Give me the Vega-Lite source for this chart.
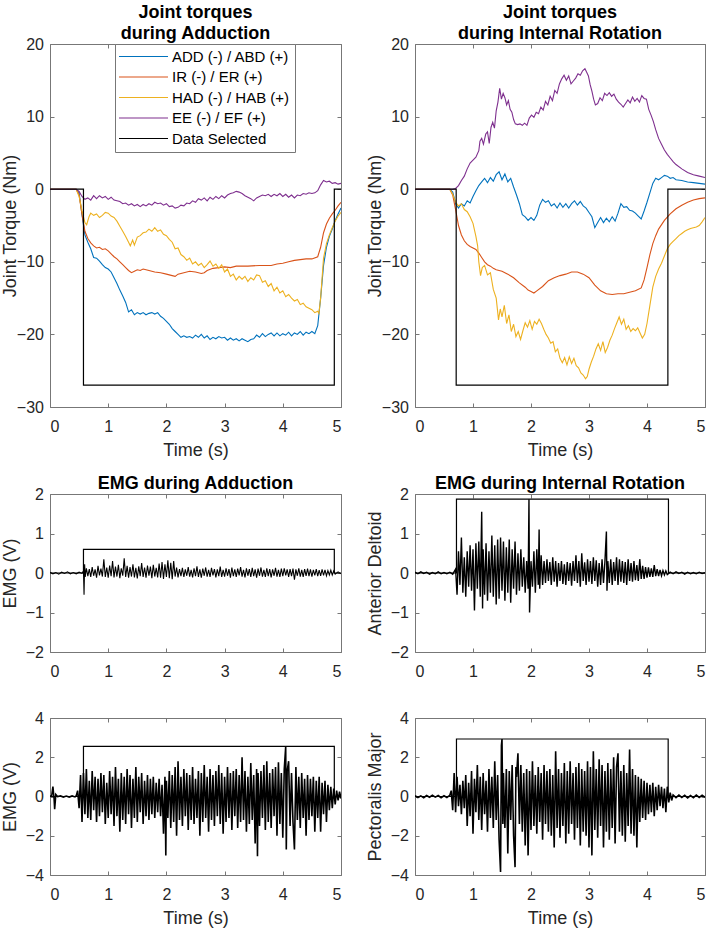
{
"$schema":"https://vega.github.io/schema/vega-lite/v6.json",
"padding":{"left":0,"top":3,"right":0,"bottom":0},
"config":{
 "font":"Liberation Sans",
 "view":{"stroke":"#777777","strokeWidth":1},
 "axis":{"domain":false,"grid":false,"tickSize":-4,"tickColor":"#777777","labelFont":"Liberation Sans","labelFontSize":16,"labelColor":"#262626","titleFont":"Liberation Sans","titleFontSize":18,"titleFontWeight":"normal","titleColor":"#262626"},
 "axisX":{"labelPadding":15,"titlePadding":7,"labelAngle":0},
 "axisY":{"labelPadding":10.5,"titlePadding":4},
 "title":{"font":"Liberation Sans","fontSize":18,"fontWeight":"bold","color":"#000000","offset":-7,"frame":"group","lineHeight":21}
},
"datasets":{
"tl":[
{"s":"ADD","t":0,"v":0},{"s":"ADD","t":0.45,"v":0},{"s":"ADD","t":0.5,"v":-0.5},{"s":"ADD","t":0.55,"v":-3.5},{"s":"ADD","t":0.6,"v":-6.3},{"s":"ADD","t":0.65,"v":-7.3},{"s":"ADD","t":0.7,"v":-8.2},{"s":"ADD","t":0.75,"v":-9.4},{"s":"ADD","t":0.8,"v":-9.5},{"s":"ADD","t":0.85,"v":-9.9},{"s":"ADD","t":0.9,"v":-10.4},{"s":"ADD","t":0.95,"v":-10.8},{"s":"ADD","t":1,"v":-11},{"s":"ADD","t":1.05,"v":-11.4},{"s":"ADD","t":1.1,"v":-12.2},{"s":"ADD","t":1.15,"v":-13},{"s":"ADD","t":1.2,"v":-13.9},{"s":"ADD","t":1.25,"v":-14.7},{"s":"ADD","t":1.3,"v":-15.6},{"s":"ADD","t":1.35,"v":-16.9},{"s":"ADD","t":1.4,"v":-16.6},{"s":"ADD","t":1.45,"v":-17.3},{"s":"ADD","t":1.5,"v":-17},{"s":"ADD","t":1.55,"v":-17.2},{"s":"ADD","t":1.6,"v":-17},{"s":"ADD","t":1.65,"v":-17.3},{"s":"ADD","t":1.7,"v":-17.1},{"s":"ADD","t":1.75,"v":-17},{"s":"ADD","t":1.8,"v":-17.2},{"s":"ADD","t":1.85,"v":-17},{"s":"ADD","t":1.9,"v":-17.5},{"s":"ADD","t":1.95,"v":-17.8},{"s":"ADD","t":2,"v":-18.2},{"s":"ADD","t":2.05,"v":-18.6},{"s":"ADD","t":2.1,"v":-19.2},{"s":"ADD","t":2.15,"v":-19.6},{"s":"ADD","t":2.2,"v":-20},{"s":"ADD","t":2.25,"v":-20.4},{"s":"ADD","t":2.3,"v":-20.2},{"s":"ADD","t":2.35,"v":-20.4},{"s":"ADD","t":2.4,"v":-20.3},{"s":"ADD","t":2.45,"v":-20.5},{"s":"ADD","t":2.5,"v":-20.1},{"s":"ADD","t":2.55,"v":-20.4},{"s":"ADD","t":2.6,"v":-20},{"s":"ADD","t":2.65,"v":-20.5},{"s":"ADD","t":2.7,"v":-20.2},{"s":"ADD","t":2.75,"v":-20.7},{"s":"ADD","t":2.8,"v":-20.4},{"s":"ADD","t":2.85,"v":-20.6},{"s":"ADD","t":2.9,"v":-20.3},{"s":"ADD","t":2.95,"v":-20.5},{"s":"ADD","t":3,"v":-20.4},{"s":"ADD","t":3.05,"v":-20.8},{"s":"ADD","t":3.1,"v":-20.5},{"s":"ADD","t":3.15,"v":-20.8},{"s":"ADD","t":3.2,"v":-20.6},{"s":"ADD","t":3.25,"v":-20.9},{"s":"ADD","t":3.3,"v":-20.6},{"s":"ADD","t":3.35,"v":-20.8},{"s":"ADD","t":3.4,"v":-21},{"s":"ADD","t":3.45,"v":-20.7},{"s":"ADD","t":3.5,"v":-20.6},{"s":"ADD","t":3.55,"v":-20.1},{"s":"ADD","t":3.6,"v":-20.4},{"s":"ADD","t":3.65,"v":-19.9},{"s":"ADD","t":3.7,"v":-20.3},{"s":"ADD","t":3.75,"v":-20},{"s":"ADD","t":3.8,"v":-19.8},{"s":"ADD","t":3.85,"v":-20.2},{"s":"ADD","t":3.9,"v":-19.8},{"s":"ADD","t":3.95,"v":-20.2},{"s":"ADD","t":4,"v":-19.9},{"s":"ADD","t":4.05,"v":-20.1},{"s":"ADD","t":4.1,"v":-19.7},{"s":"ADD","t":4.15,"v":-20.2},{"s":"ADD","t":4.2,"v":-19.8},{"s":"ADD","t":4.25,"v":-20},{"s":"ADD","t":4.3,"v":-19.6},{"s":"ADD","t":4.35,"v":-20.1},{"s":"ADD","t":4.4,"v":-19.7},{"s":"ADD","t":4.45,"v":-19.9},{"s":"ADD","t":4.5,"v":-19.6},{"s":"ADD","t":4.55,"v":-19.9},{"s":"ADD","t":4.6,"v":-18.8},{"s":"ADD","t":4.65,"v":-15},{"s":"ADD","t":4.7,"v":-10.5},{"s":"ADD","t":4.75,"v":-8},{"s":"ADD","t":4.8,"v":-6.5},{"s":"ADD","t":4.85,"v":-5.5},{"s":"ADD","t":4.9,"v":-4.3},{"s":"ADD","t":4.95,"v":-3.4},{"s":"ADD","t":5,"v":-2.6},
{"s":"IR","t":0,"v":0},{"s":"IR","t":0.45,"v":0},{"s":"IR","t":0.5,"v":-0.8},{"s":"IR","t":0.55,"v":-3.5},{"s":"IR","t":0.6,"v":-5.8},{"s":"IR","t":0.65,"v":-6.8},{"s":"IR","t":0.7,"v":-7.4},{"s":"IR","t":0.75,"v":-7.8},{"s":"IR","t":0.8,"v":-8.1},{"s":"IR","t":0.85,"v":-8},{"s":"IR","t":0.9,"v":-8.3},{"s":"IR","t":0.95,"v":-8.2},{"s":"IR","t":1,"v":-8.5},{"s":"IR","t":1.05,"v":-8.9},{"s":"IR","t":1.1,"v":-9.3},{"s":"IR","t":1.15,"v":-9.6},{"s":"IR","t":1.2,"v":-10},{"s":"IR","t":1.25,"v":-10.4},{"s":"IR","t":1.3,"v":-10.8},{"s":"IR","t":1.35,"v":-11.2},{"s":"IR","t":1.4,"v":-11.5},{"s":"IR","t":1.45,"v":-11.3},{"s":"IR","t":1.5,"v":-11.1},{"s":"IR","t":1.55,"v":-11.2},{"s":"IR","t":1.6,"v":-11},{"s":"IR","t":1.7,"v":-11.2},{"s":"IR","t":1.8,"v":-11.4},{"s":"IR","t":1.9,"v":-11.5},{"s":"IR","t":2,"v":-11.7},{"s":"IR","t":2.1,"v":-11.9},{"s":"IR","t":2.15,"v":-12},{"s":"IR","t":2.2,"v":-11.7},{"s":"IR","t":2.3,"v":-11.5},{"s":"IR","t":2.4,"v":-11.3},{"s":"IR","t":2.5,"v":-11.4},{"s":"IR","t":2.6,"v":-11.6},{"s":"IR","t":2.65,"v":-11.5},{"s":"IR","t":2.7,"v":-11.2},{"s":"IR","t":2.8,"v":-10.9},{"s":"IR","t":2.9,"v":-10.8},{"s":"IR","t":3,"v":-10.7},{"s":"IR","t":3.1,"v":-10.8},{"s":"IR","t":3.2,"v":-10.6},{"s":"IR","t":3.4,"v":-10.6},{"s":"IR","t":3.6,"v":-10.5},{"s":"IR","t":3.8,"v":-10.5},{"s":"IR","t":3.9,"v":-10.3},{"s":"IR","t":4,"v":-10.2},{"s":"IR","t":4.1,"v":-10},{"s":"IR","t":4.2,"v":-9.8},{"s":"IR","t":4.3,"v":-9.7},{"s":"IR","t":4.4,"v":-9.6},{"s":"IR","t":4.5,"v":-9.6},{"s":"IR","t":4.6,"v":-9.3},{"s":"IR","t":4.65,"v":-8},{"s":"IR","t":4.7,"v":-6},{"s":"IR","t":4.75,"v":-4.8},{"s":"IR","t":4.8,"v":-4},{"s":"IR","t":4.85,"v":-3.4},{"s":"IR","t":4.9,"v":-2.9},{"s":"IR","t":4.95,"v":-2.3},{"s":"IR","t":5,"v":-1.8},
{"s":"HAD","t":0,"v":0},{"s":"HAD","t":0.45,"v":0},{"s":"HAD","t":0.5,"v":-1},{"s":"HAD","t":0.55,"v":-3},{"s":"HAD","t":0.6,"v":-4.6},{"s":"HAD","t":0.63,"v":-4.9},{"s":"HAD","t":0.67,"v":-3.8},{"s":"HAD","t":0.7,"v":-3.3},{"s":"HAD","t":0.75,"v":-3.6},{"s":"HAD","t":0.8,"v":-3.4},{"s":"HAD","t":0.85,"v":-3.9},{"s":"HAD","t":0.9,"v":-3.6},{"s":"HAD","t":0.95,"v":-3.2},{"s":"HAD","t":1,"v":-3.3},{"s":"HAD","t":1.05,"v":-3.7},{"s":"HAD","t":1.1,"v":-3.9},{"s":"HAD","t":1.15,"v":-4.4},{"s":"HAD","t":1.2,"v":-5.1},{"s":"HAD","t":1.25,"v":-5.8},{"s":"HAD","t":1.3,"v":-6.5},{"s":"HAD","t":1.35,"v":-7.3},{"s":"HAD","t":1.38,"v":-7.8},{"s":"HAD","t":1.42,"v":-7},{"s":"HAD","t":1.45,"v":-7.7},{"s":"HAD","t":1.5,"v":-6.6},{"s":"HAD","t":1.55,"v":-6.4},{"s":"HAD","t":1.6,"v":-6},{"s":"HAD","t":1.65,"v":-5.9},{"s":"HAD","t":1.7,"v":-5.5},{"s":"HAD","t":1.75,"v":-5.8},{"s":"HAD","t":1.8,"v":-5.3},{"s":"HAD","t":1.85,"v":-5.8},{"s":"HAD","t":1.9,"v":-5.6},{"s":"HAD","t":1.95,"v":-6.2},{"s":"HAD","t":2,"v":-6.4},{"s":"HAD","t":2.05,"v":-6.9},{"s":"HAD","t":2.1,"v":-7.3},{"s":"HAD","t":2.15,"v":-8.2},{"s":"HAD","t":2.2,"v":-8.1},{"s":"HAD","t":2.25,"v":-9},{"s":"HAD","t":2.3,"v":-9.3},{"s":"HAD","t":2.35,"v":-9.8},{"s":"HAD","t":2.4,"v":-9.5},{"s":"HAD","t":2.45,"v":-10.3},{"s":"HAD","t":2.5,"v":-10},{"s":"HAD","t":2.55,"v":-10.5},{"s":"HAD","t":2.6,"v":-10.2},{"s":"HAD","t":2.65,"v":-10.8},{"s":"HAD","t":2.7,"v":-10.4},{"s":"HAD","t":2.75,"v":-9.9},{"s":"HAD","t":2.8,"v":-10.6},{"s":"HAD","t":2.85,"v":-10.3},{"s":"HAD","t":2.9,"v":-10.9},{"s":"HAD","t":2.95,"v":-10.4},{"s":"HAD","t":3,"v":-11.4},{"s":"HAD","t":3.05,"v":-11},{"s":"HAD","t":3.1,"v":-12},{"s":"HAD","t":3.15,"v":-11.7},{"s":"HAD","t":3.2,"v":-12.5},{"s":"HAD","t":3.25,"v":-12},{"s":"HAD","t":3.3,"v":-12.4},{"s":"HAD","t":3.35,"v":-12},{"s":"HAD","t":3.4,"v":-12.7},{"s":"HAD","t":3.45,"v":-12.2},{"s":"HAD","t":3.5,"v":-12.5},{"s":"HAD","t":3.55,"v":-11.8},{"s":"HAD","t":3.6,"v":-11.9},{"s":"HAD","t":3.65,"v":-12.8},{"s":"HAD","t":3.7,"v":-12.6},{"s":"HAD","t":3.75,"v":-13.4},{"s":"HAD","t":3.8,"v":-13},{"s":"HAD","t":3.85,"v":-14},{"s":"HAD","t":3.9,"v":-13.5},{"s":"HAD","t":3.95,"v":-14.3},{"s":"HAD","t":4,"v":-14},{"s":"HAD","t":4.05,"v":-14.8},{"s":"HAD","t":4.1,"v":-14.5},{"s":"HAD","t":4.15,"v":-15},{"s":"HAD","t":4.2,"v":-15.4},{"s":"HAD","t":4.25,"v":-15.2},{"s":"HAD","t":4.3,"v":-15.9},{"s":"HAD","t":4.35,"v":-15.7},{"s":"HAD","t":4.4,"v":-16.2},{"s":"HAD","t":4.45,"v":-16.4},{"s":"HAD","t":4.5,"v":-16.6},{"s":"HAD","t":4.55,"v":-17},{"s":"HAD","t":4.6,"v":-16.8},{"s":"HAD","t":4.62,"v":-17.1},{"s":"HAD","t":4.65,"v":-15},{"s":"HAD","t":4.7,"v":-9.5},{"s":"HAD","t":4.75,"v":-7.5},{"s":"HAD","t":4.8,"v":-6.3},{"s":"HAD","t":4.85,"v":-5.3},{"s":"HAD","t":4.9,"v":-4.4},{"s":"HAD","t":4.95,"v":-3.7},{"s":"HAD","t":5,"v":-3.2},
{"s":"EE","t":0,"v":0},{"s":"EE","t":0.45,"v":0},{"s":"EE","t":0.5,"v":-0.3},{"s":"EE","t":0.55,"v":-1},{"s":"EE","t":0.6,"v":-1.4},{"s":"EE","t":0.65,"v":-1.2},{"s":"EE","t":0.7,"v":-1.5},{"s":"EE","t":0.75,"v":-0.9},{"s":"EE","t":0.8,"v":-1.3},{"s":"EE","t":0.85,"v":-0.9},{"s":"EE","t":0.9,"v":-1.2},{"s":"EE","t":0.95,"v":-1},{"s":"EE","t":1,"v":-1.4},{"s":"EE","t":1.05,"v":-1.1},{"s":"EE","t":1.1,"v":-1.5},{"s":"EE","t":1.15,"v":-1.6},{"s":"EE","t":1.2,"v":-1.7},{"s":"EE","t":1.25,"v":-2},{"s":"EE","t":1.3,"v":-1.9},{"s":"EE","t":1.35,"v":-2.2},{"s":"EE","t":1.4,"v":-2},{"s":"EE","t":1.45,"v":-2.3},{"s":"EE","t":1.5,"v":-2.1},{"s":"EE","t":1.55,"v":-2.4},{"s":"EE","t":1.6,"v":-2.1},{"s":"EE","t":1.65,"v":-2.3},{"s":"EE","t":1.7,"v":-2},{"s":"EE","t":1.75,"v":-2.2},{"s":"EE","t":1.8,"v":-1.8},{"s":"EE","t":1.85,"v":-2},{"s":"EE","t":1.9,"v":-1.9},{"s":"EE","t":1.95,"v":-2.2},{"s":"EE","t":2,"v":-2},{"s":"EE","t":2.05,"v":-2.4},{"s":"EE","t":2.1,"v":-2.3},{"s":"EE","t":2.15,"v":-2.6},{"s":"EE","t":2.2,"v":-2.5},{"s":"EE","t":2.25,"v":-2.2},{"s":"EE","t":2.3,"v":-2.3},{"s":"EE","t":2.35,"v":-1.9},{"s":"EE","t":2.4,"v":-2},{"s":"EE","t":2.45,"v":-1.6},{"s":"EE","t":2.5,"v":-1.8},{"s":"EE","t":2.55,"v":-1.3},{"s":"EE","t":2.6,"v":-1.5},{"s":"EE","t":2.65,"v":-1.2},{"s":"EE","t":2.7,"v":-1.6},{"s":"EE","t":2.75,"v":-1.1},{"s":"EE","t":2.8,"v":-1.4},{"s":"EE","t":2.85,"v":-1},{"s":"EE","t":2.9,"v":-1.3},{"s":"EE","t":2.95,"v":-0.9},{"s":"EE","t":3,"v":-1.2},{"s":"EE","t":3.05,"v":-0.8},{"s":"EE","t":3.1,"v":-0.6},{"s":"EE","t":3.15,"v":-0.5},{"s":"EE","t":3.2,"v":-0.3},{"s":"EE","t":3.25,"v":-0.4},{"s":"EE","t":3.3,"v":-0.6},{"s":"EE","t":3.35,"v":-0.9},{"s":"EE","t":3.4,"v":-1.1},{"s":"EE","t":3.45,"v":-1.3},{"s":"EE","t":3.5,"v":-1.6},{"s":"EE","t":3.55,"v":-1.2},{"s":"EE","t":3.6,"v":-1},{"s":"EE","t":3.65,"v":-0.8},{"s":"EE","t":3.7,"v":-0.9},{"s":"EE","t":3.75,"v":-0.7},{"s":"EE","t":3.8,"v":-1},{"s":"EE","t":3.85,"v":-0.7},{"s":"EE","t":3.9,"v":-0.9},{"s":"EE","t":3.95,"v":-0.6},{"s":"EE","t":4,"v":-1},{"s":"EE","t":4.05,"v":-0.7},{"s":"EE","t":4.1,"v":-1.1},{"s":"EE","t":4.15,"v":-0.8},{"s":"EE","t":4.2,"v":-1.2},{"s":"EE","t":4.25,"v":-0.8},{"s":"EE","t":4.3,"v":-0.9},{"s":"EE","t":4.35,"v":-0.6},{"s":"EE","t":4.4,"v":-0.7},{"s":"EE","t":4.45,"v":-0.5},{"s":"EE","t":4.5,"v":-0.6},{"s":"EE","t":4.55,"v":-0.5},{"s":"EE","t":4.6,"v":-0.2},{"s":"EE","t":4.65,"v":0.6},{"s":"EE","t":4.7,"v":1.2},{"s":"EE","t":4.75,"v":1},{"s":"EE","t":4.8,"v":1.1},{"s":"EE","t":4.85,"v":0.8},{"s":"EE","t":4.9,"v":0.9},{"s":"EE","t":4.95,"v":0.7},{"s":"EE","t":5,"v":0.8}
],
"tls":[{"s":"SEL","t":0,"v":0,"o":1},{"s":"SEL","t":0.575,"v":0,"o":2},{"s":"SEL","t":0.575,"v":-27,"o":3},{"s":"SEL","t":4.885,"v":-27,"o":4},{"s":"SEL","t":4.885,"v":0,"o":5},{"s":"SEL","t":5,"v":0,"o":6}],
"tr":[
{"s":"ADD","t":0,"v":0},{"s":"ADD","t":0.6,"v":0},{"s":"ADD","t":0.65,"v":-0.4},{"s":"ADD","t":0.7,"v":-2},{"s":"ADD","t":0.75,"v":-2.6},{"s":"ADD","t":0.8,"v":-2},{"s":"ADD","t":0.85,"v":-2.3},{"s":"ADD","t":0.9,"v":-1.6},{"s":"ADD","t":0.95,"v":-1.9},{"s":"ADD","t":1,"v":-1},{"s":"ADD","t":1.05,"v":-0.2},{"s":"ADD","t":1.1,"v":0.5},{"s":"ADD","t":1.15,"v":1},{"s":"ADD","t":1.2,"v":1.5},{"s":"ADD","t":1.25,"v":0.9},{"s":"ADD","t":1.3,"v":1.6},{"s":"ADD","t":1.35,"v":1.1},{"s":"ADD","t":1.4,"v":2},{"s":"ADD","t":1.45,"v":2.4},{"s":"ADD","t":1.5,"v":1.3},{"s":"ADD","t":1.55,"v":2.1},{"s":"ADD","t":1.6,"v":1},{"s":"ADD","t":1.65,"v":1.5},{"s":"ADD","t":1.7,"v":0.3},{"s":"ADD","t":1.75,"v":-0.8},{"s":"ADD","t":1.8,"v":-2},{"s":"ADD","t":1.85,"v":-3.5},{"s":"ADD","t":1.9,"v":-3.8},{"s":"ADD","t":1.95,"v":-4.3},{"s":"ADD","t":2,"v":-3.9},{"s":"ADD","t":2.05,"v":-4.3},{"s":"ADD","t":2.1,"v":-3.6},{"s":"ADD","t":2.15,"v":-2.2},{"s":"ADD","t":2.2,"v":-1.4},{"s":"ADD","t":2.25,"v":-1.8},{"s":"ADD","t":2.3,"v":-1.6},{"s":"ADD","t":2.35,"v":-2.3},{"s":"ADD","t":2.4,"v":-2},{"s":"ADD","t":2.45,"v":-2.6},{"s":"ADD","t":2.5,"v":-1.9},{"s":"ADD","t":2.55,"v":-2.5},{"s":"ADD","t":2.6,"v":-2},{"s":"ADD","t":2.65,"v":-2.6},{"s":"ADD","t":2.7,"v":-2},{"s":"ADD","t":2.75,"v":-1.6},{"s":"ADD","t":2.8,"v":-2.2},{"s":"ADD","t":2.85,"v":-1.7},{"s":"ADD","t":2.9,"v":-2.3},{"s":"ADD","t":2.95,"v":-2.6},{"s":"ADD","t":3,"v":-3.2},{"s":"ADD","t":3.05,"v":-3.8},{"s":"ADD","t":3.1,"v":-5.3},{"s":"ADD","t":3.15,"v":-4.6},{"s":"ADD","t":3.2,"v":-3.9},{"s":"ADD","t":3.25,"v":-4.6},{"s":"ADD","t":3.3,"v":-4},{"s":"ADD","t":3.35,"v":-4.5},{"s":"ADD","t":3.4,"v":-3.8},{"s":"ADD","t":3.45,"v":-4.4},{"s":"ADD","t":3.5,"v":-3.3},{"s":"ADD","t":3.55,"v":-2},{"s":"ADD","t":3.6,"v":-2.5},{"s":"ADD","t":3.65,"v":-2.4},{"s":"ADD","t":3.7,"v":-2.9},{"s":"ADD","t":3.75,"v":-3},{"s":"ADD","t":3.8,"v":-3.3},{"s":"ADD","t":3.85,"v":-3.7},{"s":"ADD","t":3.9,"v":-4.1},{"s":"ADD","t":3.95,"v":-3},{"s":"ADD","t":4,"v":-1.8},{"s":"ADD","t":4.05,"v":-0.5},{"s":"ADD","t":4.1,"v":0.8},{"s":"ADD","t":4.15,"v":1.5},{"s":"ADD","t":4.2,"v":1.3},{"s":"ADD","t":4.25,"v":1.6},{"s":"ADD","t":4.3,"v":1.9},{"s":"ADD","t":4.35,"v":1.8},{"s":"ADD","t":4.4,"v":1.5},{"s":"ADD","t":4.45,"v":1.6},{"s":"ADD","t":4.5,"v":1.3},{"s":"ADD","t":4.6,"v":1.2},{"s":"ADD","t":4.7,"v":1},{"s":"ADD","t":4.8,"v":0.9},{"s":"ADD","t":4.9,"v":0.8},{"s":"ADD","t":5,"v":0.7},
{"s":"IR","t":0,"v":0},{"s":"IR","t":0.6,"v":0},{"s":"IR","t":0.65,"v":-0.8},{"s":"IR","t":0.7,"v":-2.8},{"s":"IR","t":0.75,"v":-5},{"s":"IR","t":0.8,"v":-6.3},{"s":"IR","t":0.85,"v":-7.1},{"s":"IR","t":0.9,"v":-7.6},{"s":"IR","t":0.95,"v":-7.9},{"s":"IR","t":1,"v":-8.1},{"s":"IR","t":1.05,"v":-8.3},{"s":"IR","t":1.1,"v":-8.8},{"s":"IR","t":1.15,"v":-9.4},{"s":"IR","t":1.2,"v":-10},{"s":"IR","t":1.25,"v":-10.4},{"s":"IR","t":1.3,"v":-10.6},{"s":"IR","t":1.35,"v":-10.9},{"s":"IR","t":1.4,"v":-11.1},{"s":"IR","t":1.5,"v":-11.3},{"s":"IR","t":1.6,"v":-11.7},{"s":"IR","t":1.7,"v":-12.2},{"s":"IR","t":1.8,"v":-12.9},{"s":"IR","t":1.9,"v":-13.5},{"s":"IR","t":1.95,"v":-13.9},{"s":"IR","t":2,"v":-14.1},{"s":"IR","t":2.05,"v":-14.3},{"s":"IR","t":2.1,"v":-14},{"s":"IR","t":2.2,"v":-13.4},{"s":"IR","t":2.3,"v":-12.6},{"s":"IR","t":2.4,"v":-12.2},{"s":"IR","t":2.5,"v":-11.9},{"s":"IR","t":2.6,"v":-11.7},{"s":"IR","t":2.7,"v":-11.4},{"s":"IR","t":2.8,"v":-11.4},{"s":"IR","t":2.9,"v":-11.7},{"s":"IR","t":3,"v":-12.2},{"s":"IR","t":3.1,"v":-13.2},{"s":"IR","t":3.2,"v":-14},{"s":"IR","t":3.3,"v":-14.4},{"s":"IR","t":3.4,"v":-14.5},{"s":"IR","t":3.5,"v":-14.4},{"s":"IR","t":3.6,"v":-14.4},{"s":"IR","t":3.7,"v":-14.2},{"s":"IR","t":3.8,"v":-14},{"s":"IR","t":3.9,"v":-13.6},{"s":"IR","t":3.95,"v":-12.5},{"s":"IR","t":4,"v":-10.8},{"s":"IR","t":4.05,"v":-9},{"s":"IR","t":4.1,"v":-7.5},{"s":"IR","t":4.15,"v":-6.4},{"s":"IR","t":4.2,"v":-5.5},{"s":"IR","t":4.3,"v":-4.3},{"s":"IR","t":4.4,"v":-3.4},{"s":"IR","t":4.5,"v":-2.7},{"s":"IR","t":4.6,"v":-2.2},{"s":"IR","t":4.7,"v":-1.8},{"s":"IR","t":4.8,"v":-1.5},{"s":"IR","t":4.9,"v":-1.3},{"s":"IR","t":5,"v":-1.2},
{"s":"HAD","t":0,"v":0},{"s":"HAD","t":0.6,"v":0},{"s":"HAD","t":0.65,"v":-0.7},{"s":"HAD","t":0.7,"v":-1.8},{"s":"HAD","t":0.75,"v":-2.3},{"s":"HAD","t":0.8,"v":-2},{"s":"HAD","t":0.85,"v":-2.8},{"s":"HAD","t":0.9,"v":-3.1},{"s":"HAD","t":0.95,"v":-3.8},{"s":"HAD","t":1,"v":-4.7},{"s":"HAD","t":1.05,"v":-6.5},{"s":"HAD","t":1.08,"v":-7.8},{"s":"HAD","t":1.1,"v":-10},{"s":"HAD","t":1.13,"v":-11.9},{"s":"HAD","t":1.16,"v":-10.8},{"s":"HAD","t":1.2,"v":-10.5},{"s":"HAD","t":1.25,"v":-11.8},{"s":"HAD","t":1.3,"v":-11.5},{"s":"HAD","t":1.35,"v":-13.8},{"s":"HAD","t":1.4,"v":-15},{"s":"HAD","t":1.44,"v":-18},{"s":"HAD","t":1.47,"v":-16.5},{"s":"HAD","t":1.5,"v":-17.6},{"s":"HAD","t":1.54,"v":-16},{"s":"HAD","t":1.58,"v":-18.5},{"s":"HAD","t":1.62,"v":-17.3},{"s":"HAD","t":1.66,"v":-19.6},{"s":"HAD","t":1.7,"v":-18.6},{"s":"HAD","t":1.74,"v":-20.3},{"s":"HAD","t":1.78,"v":-19.6},{"s":"HAD","t":1.82,"v":-20.7},{"s":"HAD","t":1.86,"v":-19.5},{"s":"HAD","t":1.9,"v":-18.4},{"s":"HAD","t":1.94,"v":-19},{"s":"HAD","t":1.98,"v":-18.1},{"s":"HAD","t":2.02,"v":-19.3},{"s":"HAD","t":2.06,"v":-18.2},{"s":"HAD","t":2.1,"v":-18.6},{"s":"HAD","t":2.14,"v":-17.9},{"s":"HAD","t":2.18,"v":-18.5},{"s":"HAD","t":2.22,"v":-19.3},{"s":"HAD","t":2.26,"v":-20},{"s":"HAD","t":2.3,"v":-20.5},{"s":"HAD","t":2.34,"v":-21.2},{"s":"HAD","t":2.38,"v":-21},{"s":"HAD","t":2.42,"v":-22.4},{"s":"HAD","t":2.46,"v":-22},{"s":"HAD","t":2.5,"v":-23.3},{"s":"HAD","t":2.54,"v":-23.9},{"s":"HAD","t":2.58,"v":-23.2},{"s":"HAD","t":2.62,"v":-24.2},{"s":"HAD","t":2.66,"v":-23.1},{"s":"HAD","t":2.7,"v":-24},{"s":"HAD","t":2.74,"v":-23.3},{"s":"HAD","t":2.78,"v":-24.3},{"s":"HAD","t":2.82,"v":-24.6},{"s":"HAD","t":2.86,"v":-25.3},{"s":"HAD","t":2.9,"v":-25.6},{"s":"HAD","t":2.94,"v":-26.1},{"s":"HAD","t":2.97,"v":-25.8},{"s":"HAD","t":3,"v":-24.8},{"s":"HAD","t":3.04,"v":-23.8},{"s":"HAD","t":3.08,"v":-23},{"s":"HAD","t":3.12,"v":-22},{"s":"HAD","t":3.16,"v":-21.3},{"s":"HAD","t":3.2,"v":-22.2},{"s":"HAD","t":3.24,"v":-21},{"s":"HAD","t":3.28,"v":-22.5},{"s":"HAD","t":3.32,"v":-21.8},{"s":"HAD","t":3.36,"v":-20.8},{"s":"HAD","t":3.4,"v":-20.1},{"s":"HAD","t":3.44,"v":-19.2},{"s":"HAD","t":3.48,"v":-18.4},{"s":"HAD","t":3.52,"v":-17.6},{"s":"HAD","t":3.56,"v":-18.6},{"s":"HAD","t":3.6,"v":-17.9},{"s":"HAD","t":3.64,"v":-19.3},{"s":"HAD","t":3.68,"v":-18.8},{"s":"HAD","t":3.72,"v":-19.6},{"s":"HAD","t":3.76,"v":-19.2},{"s":"HAD","t":3.8,"v":-19.5},{"s":"HAD","t":3.84,"v":-19.1},{"s":"HAD","t":3.88,"v":-19.8},{"s":"HAD","t":3.92,"v":-20.5},{"s":"HAD","t":3.96,"v":-20},{"s":"HAD","t":4,"v":-18.5},{"s":"HAD","t":4.05,"v":-16},{"s":"HAD","t":4.1,"v":-13.5},{"s":"HAD","t":4.15,"v":-12},{"s":"HAD","t":4.2,"v":-11},{"s":"HAD","t":4.25,"v":-10.2},{"s":"HAD","t":4.3,"v":-9.2},{"s":"HAD","t":4.35,"v":-8.2},{"s":"HAD","t":4.4,"v":-7.6},{"s":"HAD","t":4.45,"v":-7.2},{"s":"HAD","t":4.5,"v":-6.8},{"s":"HAD","t":4.55,"v":-6.4},{"s":"HAD","t":4.6,"v":-6.1},{"s":"HAD","t":4.65,"v":-5.8},{"s":"HAD","t":4.7,"v":-5.6},{"s":"HAD","t":4.75,"v":-5.4},{"s":"HAD","t":4.8,"v":-5.3},{"s":"HAD","t":4.85,"v":-5.2},{"s":"HAD","t":4.9,"v":-5},{"s":"HAD","t":4.95,"v":-4.5},{"s":"HAD","t":5,"v":-3.9},
{"s":"EE","t":0,"v":0},{"s":"EE","t":0.65,"v":0},{"s":"EE","t":0.7,"v":0.1},{"s":"EE","t":0.75,"v":0.5},{"s":"EE","t":0.8,"v":1.2},{"s":"EE","t":0.85,"v":1.8},{"s":"EE","t":0.9,"v":2.8},{"s":"EE","t":0.95,"v":3.6},{"s":"EE","t":1,"v":4},{"s":"EE","t":1.05,"v":4.4},{"s":"EE","t":1.1,"v":5.3},{"s":"EE","t":1.12,"v":6.6},{"s":"EE","t":1.15,"v":7},{"s":"EE","t":1.18,"v":6.2},{"s":"EE","t":1.22,"v":7.6},{"s":"EE","t":1.25,"v":7.9},{"s":"EE","t":1.28,"v":6.3},{"s":"EE","t":1.31,"v":8.5},{"s":"EE","t":1.34,"v":9.2},{"s":"EE","t":1.37,"v":8.4},{"s":"EE","t":1.4,"v":10.8},{"s":"EE","t":1.43,"v":12},{"s":"EE","t":1.46,"v":13.9},{"s":"EE","t":1.49,"v":12.4},{"s":"EE","t":1.52,"v":13.2},{"s":"EE","t":1.55,"v":12.6},{"s":"EE","t":1.58,"v":11.6},{"s":"EE","t":1.61,"v":12.2},{"s":"EE","t":1.64,"v":11},{"s":"EE","t":1.67,"v":10.6},{"s":"EE","t":1.7,"v":9.6},{"s":"EE","t":1.73,"v":9},{"s":"EE","t":1.77,"v":8.9},{"s":"EE","t":1.81,"v":9},{"s":"EE","t":1.85,"v":8.8},{"s":"EE","t":1.89,"v":9.1},{"s":"EE","t":1.93,"v":8.8},{"s":"EE","t":1.97,"v":9.8},{"s":"EE","t":2.01,"v":10.2},{"s":"EE","t":2.05,"v":9.9},{"s":"EE","t":2.09,"v":10.6},{"s":"EE","t":2.13,"v":10.4},{"s":"EE","t":2.17,"v":11.3},{"s":"EE","t":2.21,"v":10.9},{"s":"EE","t":2.25,"v":12.1},{"s":"EE","t":2.29,"v":11.6},{"s":"EE","t":2.33,"v":12.8},{"s":"EE","t":2.37,"v":12.2},{"s":"EE","t":2.41,"v":13.6},{"s":"EE","t":2.45,"v":13.2},{"s":"EE","t":2.49,"v":14.5},{"s":"EE","t":2.53,"v":15.2},{"s":"EE","t":2.57,"v":15.7},{"s":"EE","t":2.61,"v":15},{"s":"EE","t":2.65,"v":15.6},{"s":"EE","t":2.69,"v":14.5},{"s":"EE","t":2.73,"v":14.9},{"s":"EE","t":2.77,"v":15.3},{"s":"EE","t":2.81,"v":15.9},{"s":"EE","t":2.85,"v":15.7},{"s":"EE","t":2.89,"v":16.3},{"s":"EE","t":2.93,"v":16.6},{"s":"EE","t":2.96,"v":16.1},{"s":"EE","t":2.99,"v":15.6},{"s":"EE","t":3.02,"v":14.4},{"s":"EE","t":3.05,"v":13.5},{"s":"EE","t":3.08,"v":12.4},{"s":"EE","t":3.11,"v":11.6},{"s":"EE","t":3.15,"v":11.8},{"s":"EE","t":3.19,"v":12.6},{"s":"EE","t":3.23,"v":12.2},{"s":"EE","t":3.27,"v":13.2},{"s":"EE","t":3.31,"v":12.9},{"s":"EE","t":3.35,"v":13.3},{"s":"EE","t":3.39,"v":12.8},{"s":"EE","t":3.43,"v":13.1},{"s":"EE","t":3.47,"v":12.4},{"s":"EE","t":3.51,"v":12},{"s":"EE","t":3.55,"v":11.7},{"s":"EE","t":3.59,"v":11.3},{"s":"EE","t":3.63,"v":11.8},{"s":"EE","t":3.67,"v":12.3},{"s":"EE","t":3.71,"v":11.9},{"s":"EE","t":3.75,"v":12.7},{"s":"EE","t":3.79,"v":12.1},{"s":"EE","t":3.83,"v":12.5},{"s":"EE","t":3.87,"v":12},{"s":"EE","t":3.91,"v":12.9},{"s":"EE","t":3.95,"v":12.5},{"s":"EE","t":3.99,"v":12.4},{"s":"EE","t":4.03,"v":11},{"s":"EE","t":4.07,"v":10.2},{"s":"EE","t":4.11,"v":9.3},{"s":"EE","t":4.15,"v":8.2},{"s":"EE","t":4.2,"v":7},{"s":"EE","t":4.25,"v":6.2},{"s":"EE","t":4.3,"v":5.4},{"s":"EE","t":4.35,"v":4.8},{"s":"EE","t":4.4,"v":4.3},{"s":"EE","t":4.45,"v":3.8},{"s":"EE","t":4.5,"v":3.4},{"s":"EE","t":4.6,"v":2.8},{"s":"EE","t":4.7,"v":2.3},{"s":"EE","t":4.8,"v":2},{"s":"EE","t":4.9,"v":1.8},{"s":"EE","t":5,"v":1.6}
],
"trs":[{"s":"SEL","t":0,"v":0,"o":1},{"s":"SEL","t":0.71,"v":0,"o":2},{"s":"SEL","t":0.71,"v":-27,"o":3},{"s":"SEL","t":4.36,"v":-27,"o":4},{"s":"SEL","t":4.36,"v":0,"o":5},{"s":"SEL","t":5,"v":0,"o":6}],
"ml":[
{"t":0,"v":0.02},{"t":0.05,"v":-0.02},{"t":0.1,"v":0.01},{"t":0.15,"v":-0.03},{"t":0.2,"v":0.02},{"t":0.25,"v":-0.01},{"t":0.3,"v":0.03},{"t":0.35,"v":-0.02},{"t":0.4,"v":0.01},{"t":0.45,"v":-0.02},{"t":0.5,"v":0.02},{"t":0.55,"v":-0.01},{"t":0.575,"v":0.05},{"t":0.585,"v":-0.55},{"t":0.595,"v":0.22},{"t":0.605,"v":-0.1},
{"t":0.625,"v":0.12},{"t":0.65,"v":-0.08},{"t":0.675,"v":0.1},{"t":0.7,"v":-0.1},{"t":0.725,"v":0.15},{"t":0.75,"v":-0.07},{"t":0.775,"v":0.09},{"t":0.8,"v":-0.12},{"t":0.825,"v":0.18},{"t":0.85,"v":-0.06},{"t":0.875,"v":0.11},{"t":0.9,"v":-0.09},{"t":0.925,"v":0.35},{"t":0.95,"v":-0.1},{"t":0.975,"v":0.14},{"t":1,"v":-0.12},{"t":1.025,"v":0.19},{"t":1.05,"v":-0.08},{"t":1.075,"v":0.3},{"t":1.1,"v":-0.11},{"t":1.125,"v":0.16},{"t":1.15,"v":-0.09},{"t":1.175,"v":0.21},{"t":1.2,"v":-0.13},{"t":1.225,"v":0.12},{"t":1.25,"v":-0.07},{"t":1.275,"v":0.37},{"t":1.3,"v":-0.1},{"t":1.325,"v":0.18},{"t":1.35,"v":-0.12},{"t":1.375,"v":0.15},{"t":1.4,"v":-0.09},{"t":1.425,"v":0.22},{"t":1.45,"v":-0.11},{"t":1.475,"v":0.13},{"t":1.5,"v":-0.14},{"t":1.525,"v":0.17},{"t":1.55,"v":-0.08},{"t":1.575,"v":0.25},{"t":1.6,"v":-0.1},{"t":1.625,"v":0.14},{"t":1.65,"v":-0.12},{"t":1.675,"v":0.19},{"t":1.7,"v":-0.07},{"t":1.725,"v":0.16},{"t":1.75,"v":-0.13},{"t":1.775,"v":0.21},{"t":1.8,"v":-0.09},{"t":1.825,"v":0.13},{"t":1.85,"v":-0.11},{"t":1.875,"v":0.24},{"t":1.9,"v":-0.12},{"t":1.925,"v":0.28},{"t":1.95,"v":-0.15},{"t":1.975,"v":0.22},{"t":2,"v":-0.1},{"t":2.025,"v":0.32},{"t":2.05,"v":-0.13},{"t":2.075,"v":0.26},{"t":2.1,"v":-0.16},{"t":2.125,"v":0.3},{"t":2.15,"v":-0.09},{"t":2.175,"v":0.14},{"t":2.2,"v":-0.11},{"t":2.225,"v":0.1},{"t":2.25,"v":-0.08},{"t":2.275,"v":0.13},{"t":2.3,"v":-0.1},{"t":2.325,"v":0.09},{"t":2.35,"v":-0.07},{"t":2.375,"v":0.15},{"t":2.4,"v":-0.09},{"t":2.425,"v":0.08},{"t":2.45,"v":-0.11},{"t":2.475,"v":0.12},{"t":2.5,"v":-0.08},{"t":2.525,"v":0.17},{"t":2.55,"v":-0.1},{"t":2.575,"v":0.09},{"t":2.6,"v":-0.12},{"t":2.625,"v":0.11},{"t":2.65,"v":-0.07},{"t":2.675,"v":0.14},{"t":2.7,"v":-0.09},{"t":2.725,"v":0.08},{"t":2.75,"v":-0.1},{"t":2.775,"v":0.13},{"t":2.8,"v":-0.06},{"t":2.825,"v":0.1},{"t":2.85,"v":-0.11},{"t":2.875,"v":0.09},{"t":2.9,"v":-0.08},{"t":2.925,"v":0.16},{"t":2.95,"v":-0.1},{"t":2.975,"v":0.08},{"t":3,"v":-0.09},{"t":3.025,"v":0.12},{"t":3.05,"v":-0.07},{"t":3.075,"v":0.1},{"t":3.1,"v":-0.12},{"t":3.125,"v":0.14},{"t":3.15,"v":-0.08},{"t":3.175,"v":0.09},{"t":3.2,"v":-0.1},{"t":3.225,"v":0.11},{"t":3.25,"v":-0.06},{"t":3.275,"v":0.15},{"t":3.3,"v":-0.09},{"t":3.325,"v":0.08},{"t":3.35,"v":-0.11},{"t":3.375,"v":0.12},{"t":3.4,"v":-0.07},{"t":3.425,"v":0.1},{"t":3.45,"v":-0.1},{"t":3.475,"v":0.13},{"t":3.5,"v":-0.08},{"t":3.525,"v":0.09},{"t":3.55,"v":-0.12},{"t":3.575,"v":0.11},{"t":3.6,"v":-0.07},{"t":3.625,"v":0.14},{"t":3.65,"v":-0.09},{"t":3.675,"v":0.08},{"t":3.7,"v":-0.1},{"t":3.725,"v":0.12},{"t":3.75,"v":-0.08},{"t":3.775,"v":0.1},{"t":3.8,"v":-0.11},{"t":3.825,"v":0.09},{"t":3.85,"v":-0.07},{"t":3.875,"v":0.13},{"t":3.9,"v":-0.09},{"t":3.925,"v":0.08},{"t":3.95,"v":-0.1},{"t":3.975,"v":0.11},{"t":4,"v":-0.08},{"t":4.025,"v":0.12},{"t":4.05,"v":-0.06},{"t":4.075,"v":0.09},{"t":4.1,"v":-0.1},{"t":4.125,"v":0.1},{"t":4.15,"v":-0.08},{"t":4.175,"v":0.11},{"t":4.2,"v":-0.17},{"t":4.225,"v":0.09},{"t":4.25,"v":-0.07},{"t":4.275,"v":0.12},{"t":4.3,"v":-0.09},{"t":4.325,"v":0.08},{"t":4.35,"v":-0.1},{"t":4.375,"v":0.1},{"t":4.4,"v":-0.07},{"t":4.425,"v":0.11},{"t":4.45,"v":-0.08},{"t":4.475,"v":0.09},{"t":4.5,"v":-0.09},{"t":4.525,"v":0.08},{"t":4.55,"v":-0.06},{"t":4.575,"v":0.1},{"t":4.6,"v":-0.08},{"t":4.625,"v":0.07},{"t":4.65,"v":-0.07},{"t":4.675,"v":0.09},{"t":4.7,"v":-0.06},{"t":4.725,"v":0.08},{"t":4.75,"v":-0.07},{"t":4.775,"v":0.06},{"t":4.8,"v":-0.05},{"t":4.825,"v":0.07},{"t":4.85,"v":-0.05},{"t":4.875,"v":0.05},{"t":4.9,"v":-0.03},{"t":4.95,"v":0.03},{"t":5,"v":-0.02}
],
"mls":[{"t":0,"v":0,"o":1},{"t":0.575,"v":0,"o":2},{"t":0.575,"v":0.6,"o":3},{"t":4.885,"v":0.6,"o":4},{"t":4.885,"v":0,"o":5},{"t":5,"v":0,"o":6}],
"mr":[
{"t":0,"v":0.02},{"t":0.05,"v":-0.02},{"t":0.1,"v":0.03},{"t":0.15,"v":-0.01},{"t":0.2,"v":0.02},{"t":0.25,"v":-0.03},{"t":0.3,"v":0.01},{"t":0.35,"v":-0.02},{"t":0.4,"v":0.03},{"t":0.45,"v":-0.02},{"t":0.5,"v":0.01},{"t":0.55,"v":-0.02},{"t":0.6,"v":0.02},{"t":0.65,"v":-0.03},
{"t":0.7,"v":0.1},{"t":0.725,"v":-0.55},{"t":0.75,"v":0.55},{"t":0.775,"v":-0.3},{"t":0.8,"v":0.9},{"t":0.825,"v":-0.5},{"t":0.85,"v":0.4},{"t":0.875,"v":-0.6},{"t":0.9,"v":0.55},{"t":0.925,"v":-0.35},{"t":0.95,"v":0.7},{"t":0.975,"v":-0.45},{"t":1,"v":0.6},{"t":1.025,"v":-0.95},{"t":1.05,"v":0.75},{"t":1.075,"v":-0.4},{"t":1.1,"v":0.8},{"t":1.125,"v":-0.6},{"t":1.15,"v":1.55},{"t":1.165,"v":-0.9},{"t":1.175,"v":0.6},{"t":1.2,"v":-0.55},{"t":1.225,"v":0.75},{"t":1.25,"v":-0.7},{"t":1.275,"v":0.55},{"t":1.3,"v":-0.5},{"t":1.325,"v":0.95},{"t":1.35,"v":-0.6},{"t":1.375,"v":0.7},{"t":1.4,"v":-0.8},{"t":1.425,"v":0.85},{"t":1.45,"v":-0.65},{"t":1.475,"v":0.9},{"t":1.5,"v":-0.45},{"t":1.525,"v":0.8},{"t":1.55,"v":-0.7},{"t":1.575,"v":0.65},{"t":1.6,"v":-0.5},{"t":1.625,"v":0.85},{"t":1.65,"v":-0.75},{"t":1.675,"v":0.6},{"t":1.7,"v":-0.4},{"t":1.725,"v":0.8},{"t":1.75,"v":-0.55},{"t":1.775,"v":0.5},{"t":1.8,"v":-0.45},{"t":1.825,"v":0.6},{"t":1.85,"v":-0.35},{"t":1.875,"v":0.4},{"t":1.9,"v":-0.5},{"t":1.925,"v":0.3},{"t":1.95,"v":-0.4},{"t":1.965,"v":1.87},{"t":1.975,"v":-1},{"t":2,"v":0.3},{"t":2.025,"v":-0.35},{"t":2.05,"v":0.55},{"t":2.075,"v":-0.5},{"t":2.1,"v":0.6},{"t":2.125,"v":-0.3},{"t":2.14,"v":1.1},{"t":2.15,"v":-0.4},{"t":2.175,"v":0.45},{"t":2.2,"v":-0.3},{"t":2.225,"v":0.3},{"t":2.25,"v":-0.25},{"t":2.275,"v":0.35},{"t":2.3,"v":-0.2},{"t":2.325,"v":0.28},{"t":2.35,"v":-0.3},{"t":2.375,"v":0.4},{"t":2.4,"v":-0.22},{"t":2.425,"v":0.3},{"t":2.45,"v":-0.35},{"t":2.475,"v":0.25},{"t":2.5,"v":-0.2},{"t":2.525,"v":0.3},{"t":2.55,"v":-0.28},{"t":2.575,"v":0.22},{"t":2.6,"v":-0.3},{"t":2.625,"v":0.28},{"t":2.65,"v":-0.2},{"t":2.675,"v":0.25},{"t":2.7,"v":-0.32},{"t":2.725,"v":0.3},{"t":2.75,"v":-0.2},{"t":2.775,"v":0.45},{"t":2.8,"v":-0.25},{"t":2.825,"v":0.3},{"t":2.85,"v":-0.35},{"t":2.875,"v":0.5},{"t":2.9,"v":-0.2},{"t":2.925,"v":0.27},{"t":2.95,"v":-0.3},{"t":2.975,"v":0.35},{"t":3,"v":-0.22},{"t":3.025,"v":0.3},{"t":3.05,"v":-0.28},{"t":3.075,"v":0.4},{"t":3.1,"v":-0.2},{"t":3.125,"v":0.32},{"t":3.15,"v":-0.35},{"t":3.175,"v":0.25},{"t":3.2,"v":-0.3},{"t":3.225,"v":0.35},{"t":3.25,"v":-0.25},{"t":3.275,"v":0.3},{"t":3.3,"v":1.05},{"t":3.31,"v":-0.45},{"t":3.325,"v":0.3},{"t":3.35,"v":-0.25},{"t":3.375,"v":0.35},{"t":3.4,"v":-0.3},{"t":3.425,"v":0.28},{"t":3.45,"v":-0.2},{"t":3.475,"v":0.4},{"t":3.5,"v":-0.3},{"t":3.525,"v":0.35},{"t":3.55,"v":-0.22},{"t":3.575,"v":0.3},{"t":3.6,"v":-0.25},{"t":3.625,"v":0.28},{"t":3.65,"v":-0.3},{"t":3.675,"v":0.35},{"t":3.7,"v":-0.2},{"t":3.725,"v":0.25},{"t":3.75,"v":-0.22},{"t":3.775,"v":0.3},{"t":3.8,"v":-0.18},{"t":3.825,"v":0.2},{"t":3.85,"v":-0.2},{"t":3.875,"v":0.35},{"t":3.9,"v":-0.15},{"t":3.925,"v":0.18},{"t":3.95,"v":-0.15},{"t":3.975,"v":0.15},{"t":4,"v":-0.12},{"t":4.025,"v":0.14},{"t":4.05,"v":-0.1},{"t":4.075,"v":0.12},{"t":4.1,"v":-0.1},{"t":4.125,"v":0.2},{"t":4.15,"v":-0.08},{"t":4.175,"v":0.1},{"t":4.2,"v":-0.08},{"t":4.225,"v":0.08},{"t":4.25,"v":-0.07},{"t":4.275,"v":0.06},{"t":4.3,"v":-0.05},{"t":4.325,"v":0.05},{"t":4.35,"v":-0.04},
{"t":4.4,"v":0.02},{"t":4.45,"v":-0.02},{"t":4.5,"v":0.03},{"t":4.55,"v":-0.01},{"t":4.6,"v":0.02},{"t":4.65,"v":-0.03},{"t":4.7,"v":0.02},{"t":4.75,"v":-0.02},{"t":4.8,"v":0.01},{"t":4.85,"v":-0.02},{"t":4.9,"v":0.02},{"t":4.95,"v":-0.01},{"t":5,"v":0.01}
],
"mrs":[{"t":0,"v":0,"o":1},{"t":0.715,"v":0,"o":2},{"t":0.715,"v":1.87,"o":3},{"t":4.37,"v":1.87,"o":4},{"t":4.37,"v":0,"o":5},{"t":5,"v":0,"o":6}],
"bl":[
{"t":0,"v":0},{"t":0.03,"v":0.05},{"t":0.05,"v":0.5},{"t":0.07,"v":-0.1},{"t":0.08,"v":-0.65},{"t":0.1,"v":0.1},{"t":0.13,"v":0},{"t":0.18,"v":0.03},{"t":0.23,"v":-0.03},{"t":0.28,"v":0.02},{"t":0.33,"v":-0.03},{"t":0.38,"v":0.03},{"t":0.43,"v":-0.02},{"t":0.45,"v":0.03},
{"t":0.475,"v":0.3},{"t":0.5,"v":-0.6},{"t":0.525,"v":1.1},{"t":0.55,"v":-1.3},{"t":0.575,"v":1.2},{"t":0.6,"v":-0.9},{"t":0.625,"v":1.4},{"t":0.65,"v":-1.1},{"t":0.675,"v":0.8},{"t":0.7,"v":-1.2},{"t":0.725,"v":1.3},{"t":0.75,"v":-0.7},{"t":0.775,"v":1},{"t":0.8,"v":-1.3},{"t":0.825,"v":0.9},{"t":0.85,"v":-1},{"t":0.875,"v":1.2},{"t":0.9,"v":-0.8},{"t":0.925,"v":1.1},{"t":0.95,"v":-1.4},{"t":0.975,"v":0.7},{"t":1,"v":-1.1},{"t":1.025,"v":1.3},{"t":1.05,"v":-0.9},{"t":1.075,"v":1},{"t":1.1,"v":-1.5},{"t":1.125,"v":1.5},{"t":1.15,"v":-1},{"t":1.175,"v":0.9},{"t":1.2,"v":-1.8},{"t":1.225,"v":1.2},{"t":1.25,"v":-1.2},{"t":1.275,"v":1},{"t":1.3,"v":-1.4},{"t":1.325,"v":1.4},{"t":1.35,"v":-0.9},{"t":1.375,"v":1.1},{"t":1.4,"v":-1.6},{"t":1.425,"v":0.9},{"t":1.45,"v":-1.1},{"t":1.475,"v":1.5},{"t":1.5,"v":-1.3},{"t":1.525,"v":1},{"t":1.55,"v":-0.8},{"t":1.575,"v":1.2},{"t":1.6,"v":-1.4},{"t":1.625,"v":0.8},{"t":1.65,"v":-1},{"t":1.675,"v":1.1},{"t":1.7,"v":-1.2},{"t":1.725,"v":0.9},{"t":1.75,"v":-0.9},{"t":1.775,"v":1},{"t":1.8,"v":-1.1},{"t":1.825,"v":0.7},{"t":1.85,"v":-0.8},{"t":1.875,"v":0.9},{"t":1.9,"v":-1},{"t":1.925,"v":0.6},{"t":1.95,"v":-1.9},{"t":1.975,"v":1},{"t":1.99,"v":-3},{"t":2,"v":0.8},{"t":2.025,"v":-1.1},{"t":2.05,"v":1.3},{"t":2.075,"v":-1.6},{"t":2.1,"v":1.1},{"t":2.125,"v":-1.3},{"t":2.15,"v":1.5},{"t":2.175,"v":-2},{"t":2.2,"v":1.8},{"t":2.225,"v":-1.2},{"t":2.25,"v":1},{"t":2.275,"v":-1.5},{"t":2.3,"v":1.4},{"t":2.325,"v":-1},{"t":2.35,"v":1.2},{"t":2.375,"v":-1.7},{"t":2.4,"v":1.1},{"t":2.425,"v":-1.2},{"t":2.45,"v":1.5},{"t":2.475,"v":-1.4},{"t":2.5,"v":0.9},{"t":2.525,"v":-1.1},{"t":2.55,"v":1.3},{"t":2.575,"v":-2},{"t":2.6,"v":1.2},{"t":2.625,"v":-1.3},{"t":2.65,"v":1.6},{"t":2.675,"v":-1.1},{"t":2.7,"v":1},{"t":2.725,"v":-1.8},{"t":2.75,"v":1.4},{"t":2.775,"v":-1.2},{"t":2.8,"v":1.1},{"t":2.825,"v":-1.5},{"t":2.85,"v":1.3},{"t":2.875,"v":-1},{"t":2.9,"v":1.6},{"t":2.925,"v":-1.4},{"t":2.95,"v":1.2},{"t":2.975,"v":-1.9},{"t":3,"v":1},{"t":3.025,"v":-1.3},{"t":3.05,"v":1.5},{"t":3.075,"v":-1.1},{"t":3.1,"v":1.2},{"t":3.125,"v":-1.7},{"t":3.15,"v":1.3},{"t":3.175,"v":-1},{"t":3.2,"v":1.4},{"t":3.225,"v":-1.6},{"t":3.25,"v":1.1},{"t":3.275,"v":-1.3},{"t":3.3,"v":2},{"t":3.325,"v":-1.2},{"t":3.35,"v":1.3},{"t":3.375,"v":-1.8},{"t":3.4,"v":1},{"t":3.425,"v":-1.4},{"t":3.45,"v":1.7},{"t":3.475,"v":-1.2},{"t":3.5,"v":1.1},{"t":3.525,"v":-2.4},{"t":3.55,"v":1.4},{"t":3.565,"v":-3.05},{"t":3.575,"v":1.2},{"t":3.6,"v":-1.5},{"t":3.625,"v":1.3},{"t":3.65,"v":-1.1},{"t":3.675,"v":1.6},{"t":3.7,"v":-1.7},{"t":3.725,"v":1.8},{"t":3.75,"v":-1.3},{"t":3.775,"v":1.2},{"t":3.8,"v":-1.6},{"t":3.825,"v":1.4},{"t":3.85,"v":-1},{"t":3.875,"v":1.5},{"t":3.9,"v":-2},{"t":3.925,"v":1.75},{"t":3.95,"v":-1.4},{"t":3.975,"v":1.2},{"t":4,"v":-2.1},{"t":4.025,"v":1.4},{"t":4.05,"v":2.55},{"t":4.06,"v":-2.7},{"t":4.075,"v":1.3},{"t":4.1,"v":1.8},{"t":4.125,"v":-1.5},{"t":4.15,"v":1.2},{"t":4.175,"v":-1.3},{"t":4.2,"v":-2.7},{"t":4.225,"v":1.5},{"t":4.25,"v":-1.2},{"t":4.275,"v":1},{"t":4.3,"v":-1.6},{"t":4.325,"v":1.2},{"t":4.35,"v":-1.1},{"t":4.375,"v":0.9},{"t":4.4,"v":-2},{"t":4.425,"v":1.1},{"t":4.45,"v":-1.2},{"t":4.475,"v":0.9},{"t":4.5,"v":-1},{"t":4.525,"v":1},{"t":4.55,"v":-1.8},{"t":4.575,"v":0.8},{"t":4.6,"v":-1.1},{"t":4.625,"v":1},{"t":4.65,"v":-1.8},{"t":4.675,"v":0.7},{"t":4.7,"v":-0.9},{"t":4.725,"v":0.8},{"t":4.75,"v":-1.3},{"t":4.775,"v":0.6},{"t":4.8,"v":-0.7},{"t":4.825,"v":0.5},{"t":4.85,"v":-0.6},{"t":4.875,"v":0.4},{"t":4.9,"v":-0.4},{"t":4.925,"v":0.3},{"t":4.95,"v":-0.2},{"t":4.975,"v":0.25},{"t":5,"v":-0.1}
],
"bls":[{"t":0,"v":0,"o":1},{"t":0.575,"v":0,"o":2},{"t":0.575,"v":2.55,"o":3},{"t":4.885,"v":2.55,"o":4},{"t":4.885,"v":0,"o":5},{"t":5,"v":0,"o":6}],
"br":[
{"t":0,"v":0.04},{"t":0.05,"v":-0.05},{"t":0.1,"v":0.03},{"t":0.15,"v":-0.06},{"t":0.2,"v":0.05},{"t":0.25,"v":-0.04},{"t":0.3,"v":0.06},{"t":0.35,"v":-0.03},{"t":0.4,"v":0.05},{"t":0.45,"v":-0.06},{"t":0.5,"v":0.04},{"t":0.55,"v":-0.05},{"t":0.6,"v":0.06},
{"t":0.625,"v":0.3},{"t":0.65,"v":-0.7},{"t":0.675,"v":1.2},{"t":0.7,"v":-0.8},{"t":0.725,"v":1},{"t":0.75,"v":-0.5},{"t":0.775,"v":0.6},{"t":0.8,"v":-0.9},{"t":0.825,"v":0.8},{"t":0.85,"v":-0.6},{"t":0.875,"v":1.1},{"t":0.9,"v":-1.5},{"t":0.925,"v":0.7},{"t":0.95,"v":-1},{"t":0.975,"v":1.3},{"t":1,"v":-1.9},{"t":1.025,"v":0.9},{"t":1.05,"v":-0.8},{"t":1.075,"v":1.6},{"t":1.1,"v":-1.2},{"t":1.125,"v":1},{"t":1.15,"v":-1.7},{"t":1.175,"v":1.2},{"t":1.2,"v":-0.9},{"t":1.225,"v":0.8},{"t":1.25,"v":-1.8},{"t":1.275,"v":1.4},{"t":1.3,"v":-1.1},{"t":1.325,"v":1},{"t":1.35,"v":-1.6},{"t":1.375,"v":1.8},{"t":1.4,"v":-1.2},{"t":1.425,"v":1.1},{"t":1.45,"v":-2.2},{"t":1.475,"v":-3.85},{"t":1.49,"v":2.6},{"t":1.5,"v":2.93},{"t":1.515,"v":-1.4},{"t":1.525,"v":1.2},{"t":1.55,"v":-1.6},{"t":1.575,"v":1.4},{"t":1.6,"v":-2.9},{"t":1.625,"v":1.3},{"t":1.65,"v":-1.2},{"t":1.675,"v":1.6},{"t":1.7,"v":-2},{"t":1.725,"v":-3.6},{"t":1.74,"v":1.5},{"t":1.75,"v":1},{"t":1.775,"v":2.2},{"t":1.8,"v":-1.4},{"t":1.825,"v":1.6},{"t":1.85,"v":-1.8},{"t":1.875,"v":1.2},{"t":1.9,"v":-2.5},{"t":1.925,"v":1.4},{"t":1.95,"v":-3},{"t":1.975,"v":1.3},{"t":2,"v":-1.7},{"t":2.025,"v":1.8},{"t":2.05,"v":-1.5},{"t":2.075,"v":1.1},{"t":2.1,"v":-1.9},{"t":2.125,"v":1.5},{"t":2.15,"v":-1.3},{"t":2.175,"v":1.2},{"t":2.2,"v":-2.2},{"t":2.225,"v":1.6},{"t":2.25,"v":-1.4},{"t":2.275,"v":1.3},{"t":2.3,"v":-1.8},{"t":2.325,"v":1.4},{"t":2.35,"v":-2},{"t":2.375,"v":1.1},{"t":2.4,"v":-2.6},{"t":2.425,"v":2.3},{"t":2.45,"v":-1.6},{"t":2.475,"v":1.4},{"t":2.5,"v":-2.1},{"t":2.525,"v":1.2},{"t":2.55,"v":-1.5},{"t":2.575,"v":1.7},{"t":2.6,"v":-2.4},{"t":2.625,"v":1.3},{"t":2.65,"v":-1.9},{"t":2.675,"v":1.8},{"t":2.7,"v":-1.4},{"t":2.725,"v":1.2},{"t":2.75,"v":-2.2},{"t":2.775,"v":1.5},{"t":2.8,"v":-1.6},{"t":2.825,"v":1.7},{"t":2.85,"v":-2.5},{"t":2.875,"v":1.4},{"t":2.9,"v":-1.8},{"t":2.925,"v":1.3},{"t":2.95,"v":-2},{"t":2.975,"v":1.8},{"t":3,"v":-2.6},{"t":3.025,"v":1.5},{"t":3.05,"v":-3},{"t":3.075,"v":2.3},{"t":3.1,"v":-1.7},{"t":3.125,"v":1.4},{"t":3.15,"v":-2.1},{"t":3.175,"v":1.9},{"t":3.2,"v":-1.5},{"t":3.225,"v":1.6},{"t":3.25,"v":-2.6},{"t":3.275,"v":1.3},{"t":3.3,"v":-1.8},{"t":3.325,"v":1.7},{"t":3.35,"v":-2.2},{"t":3.375,"v":1.4},{"t":3.4,"v":-1.6},{"t":3.425,"v":2},{"t":3.45,"v":-2.4},{"t":3.475,"v":1.5},{"t":3.5,"v":2.2},{"t":3.525,"v":-1.8},{"t":3.55,"v":1.3},{"t":3.575,"v":-2},{"t":3.6,"v":1.6},{"t":3.625,"v":-2.3},{"t":3.65,"v":1.2},{"t":3.675,"v":-1.5},{"t":3.7,"v":2.4},{"t":3.725,"v":-1.9},{"t":3.75,"v":1.4},{"t":3.775,"v":-2},{"t":3.8,"v":1.1},{"t":3.825,"v":-2.6},{"t":3.85,"v":1},{"t":3.875,"v":-1.3},{"t":3.9,"v":0.9},{"t":3.925,"v":-1.1},{"t":3.95,"v":0.8},{"t":3.975,"v":-1.2},{"t":4,"v":0.7},{"t":4.025,"v":-0.9},{"t":4.05,"v":0.6},{"t":4.075,"v":-0.8},{"t":4.1,"v":0.7},{"t":4.125,"v":-1},{"t":4.15,"v":0.5},{"t":4.175,"v":-0.7},{"t":4.2,"v":0.6},{"t":4.225,"v":-0.5},{"t":4.25,"v":0.5},{"t":4.275,"v":-0.6},{"t":4.3,"v":0.4},{"t":4.325,"v":-0.8},{"t":4.35,"v":0.5},{"t":4.375,"v":-0.3},{"t":4.4,"v":0.2},{"t":4.425,"v":-0.2},
{"t":4.45,"v":0.08},{"t":4.5,"v":-0.06},{"t":4.55,"v":0.07},{"t":4.6,"v":-0.05},{"t":4.65,"v":0.06},{"t":4.7,"v":-0.07},{"t":4.75,"v":0.05},{"t":4.8,"v":-0.06},{"t":4.85,"v":0.07},{"t":4.9,"v":-0.05},{"t":4.95,"v":0.06},{"t":5,"v":-0.04}
],
"brs":[{"t":0,"v":0,"o":1},{"t":0.715,"v":0,"o":2},{"t":0.715,"v":2.93,"o":3},{"t":4.365,"v":2.93,"o":4},{"t":4.365,"v":0,"o":5},{"t":5,"v":0,"o":6}]
},
"spacing":14,
"vconcat":[
{"hconcat":[
 {"width":291,"height":363,"title":{"text":["Joint torques","during Adduction"]},
  "layer":[
   {"data":{"name":"tl"},"mark":{"type":"line","strokeWidth":1.1,"clip":true},
    "encoding":{
     "x":{"field":"t","type":"quantitative","scale":{"domain":[0,5],"nice":false},"axis":{"values":[0,1,2,3,4,5],"title":"Time (s)"}},
     "y":{"field":"v","type":"quantitative","scale":{"domain":[-30,20],"nice":false},"axis":{"values":[-30,-20,-10,0,10,20],"title":"Joint Torque (Nm)","minExtent":27,"maxExtent":27}},
     "color":{"field":"s","type":"nominal","scale":{"domain":["ADD","IR","HAD","EE","SEL"],"range":["#0072BD","#D95319","#EDB120","#7E2F8E","#000000"]},
      "legend":{"orient":"none","legendX":65,"legendY":0,"title":null,"symbolType":"M-4.9,0H4.9","symbolSize":100,"symbolOffset":16,"labelOffset":21,"symbolStrokeWidth":1.2,"labelFontSize":15,"labelFont":"Liberation Sans","labelColor":"#000000","strokeColor":"#777777","fillColor":"#ffffff","padding":5,"rowPadding":4.5,
       "labelExpr":"datum.label == 'ADD' ? 'ADD (-) / ABD (+)' : datum.label == 'IR' ? 'IR (-) / ER (+)' : datum.label == 'HAD' ? 'HAD (-) / HAB (+)' : datum.label == 'EE' ? 'EE (-) / EF (+)' : 'Data Selected'"}}
    }},
   {"data":{"name":"tls"},"mark":{"type":"line","strokeWidth":1.2},
    "encoding":{
     "x":{"field":"t","type":"quantitative","axis":{"orient":"top","values":[0,1,2,3,4,5],"labels":false,"title":null,"minExtent":0,"maxExtent":0,"titlePadding":0}},
     "y":{"field":"v","type":"quantitative","axis":{"orient":"right","values":[-30,-20,-10,0,10,20],"labels":false,"title":null,"minExtent":0,"maxExtent":0,"titlePadding":0}},
     "color":{"field":"s","type":"nominal"},
     "order":{"field":"o"}
    }}
  ],
  "resolve":{"axis":{"x":"independent","y":"independent"}}
 },
 {"width":290,"height":363,"title":{"text":["Joint torques","during Internal Rotation"]},
  "layer":[
   {"data":{"name":"tr"},"mark":{"type":"line","strokeWidth":1.1,"clip":true},
    "encoding":{
     "x":{"field":"t","type":"quantitative","scale":{"domain":[0,5],"nice":false},"axis":{"values":[0,1,2,3,4,5],"title":"Time (s)"}},
     "y":{"field":"v","type":"quantitative","scale":{"domain":[-30,20],"nice":false},"axis":{"values":[-30,-20,-10,0,10,20],"title":"Joint Torque (Nm)","minExtent":27,"maxExtent":27}},
     "color":{"field":"s","type":"nominal","scale":{"domain":["ADD","IR","HAD","EE","SEL"],"range":["#0072BD","#D95319","#EDB120","#7E2F8E","#000000"]},"legend":null}
    }},
   {"data":{"name":"trs"},"mark":{"type":"line","strokeWidth":1.2},
    "encoding":{
     "x":{"field":"t","type":"quantitative","axis":{"orient":"top","values":[0,1,2,3,4,5],"labels":false,"title":null,"minExtent":0,"maxExtent":0,"titlePadding":0}},
     "y":{"field":"v","type":"quantitative","axis":{"orient":"right","values":[-30,-20,-10,0,10,20],"labels":false,"title":null,"minExtent":0,"maxExtent":0,"titlePadding":0}},
     "color":{"field":"s","type":"nominal"},
     "order":{"field":"o"}
    }}
  ],
  "resolve":{"axis":{"x":"independent","y":"independent"}}
 }
],"spacing":74,"bounds":"flush","resolve":{"scale":{"color":"independent"}}},
{"vconcat":[
 {"hconcat":[
  {"width":291,"height":158,"title":"EMG during Adduction",
   "layer":[
    {"data":{"name":"ml"},"mark":{"type":"line","color":"#000000","strokeWidth":1.1,"clip":true},
     "encoding":{
      "x":{"field":"t","type":"quantitative","scale":{"domain":[0,5],"nice":false},"axis":{"values":[0,1,2,3,4,5],"title":null}},
      "y":{"field":"v","type":"quantitative","scale":{"domain":[-2,2],"nice":false},"axis":{"values":[-2,-1,0,1,2],"title":"EMG (V)","minExtent":27,"maxExtent":27}}
     }},
    {"data":{"name":"mls"},"mark":{"type":"line","color":"#000000","strokeWidth":1.2},
     "encoding":{
      "x":{"field":"t","type":"quantitative","axis":{"orient":"top","values":[0,1,2,3,4,5],"labels":false,"title":null,"minExtent":0,"maxExtent":0,"titlePadding":0}},
      "y":{"field":"v","type":"quantitative","axis":{"orient":"right","values":[-2,-1,0,1,2],"labels":false,"title":null,"minExtent":0,"maxExtent":0,"titlePadding":0}},
      "order":{"field":"o"}
     }}
   ],
   "resolve":{"axis":{"x":"independent","y":"independent"}}
  },
  {"width":290,"height":158,"title":"EMG during Internal Rotation",
   "layer":[
    {"data":{"name":"mr"},"mark":{"type":"line","color":"#000000","strokeWidth":1.4,"clip":true},
     "encoding":{
      "x":{"field":"t","type":"quantitative","scale":{"domain":[0,5],"nice":false},"axis":{"values":[0,1,2,3,4,5],"title":null}},
      "y":{"field":"v","type":"quantitative","scale":{"domain":[-2,2],"nice":false},"axis":{"values":[-2,-1,0,1,2],"title":"Anterior Deltoid","minExtent":27,"maxExtent":27}}
     }},
    {"data":{"name":"mrs"},"mark":{"type":"line","color":"#000000","strokeWidth":1.2},
     "encoding":{
      "x":{"field":"t","type":"quantitative","axis":{"orient":"top","values":[0,1,2,3,4,5],"labels":false,"title":null,"minExtent":0,"maxExtent":0,"titlePadding":0}},
      "y":{"field":"v","type":"quantitative","axis":{"orient":"right","values":[-2,-1,0,1,2],"labels":false,"title":null,"minExtent":0,"maxExtent":0,"titlePadding":0}},
      "order":{"field":"o"}
     }}
   ],
   "resolve":{"axis":{"x":"independent","y":"independent"}}
  }
 ],"spacing":74,"bounds":"flush"},
 {"hconcat":[
  {"width":291,"height":157,
   "layer":[
    {"data":{"name":"bl"},"mark":{"type":"line","color":"#000000","strokeWidth":1.6,"clip":true},
     "encoding":{
      "x":{"field":"t","type":"quantitative","scale":{"domain":[0,5],"nice":false},"axis":{"values":[0,1,2,3,4,5],"title":"Time (s)"}},
      "y":{"field":"v","type":"quantitative","scale":{"domain":[-4,4],"nice":false},"axis":{"values":[-4,-2,0,2,4],"title":"EMG (V)","minExtent":27,"maxExtent":27}}
     }},
    {"data":{"name":"bls"},"mark":{"type":"line","color":"#000000","strokeWidth":1.2},
     "encoding":{
      "x":{"field":"t","type":"quantitative","axis":{"orient":"top","values":[0,1,2,3,4,5],"labels":false,"title":null,"minExtent":0,"maxExtent":0,"titlePadding":0}},
      "y":{"field":"v","type":"quantitative","axis":{"orient":"right","values":[-4,-2,0,2,4],"labels":false,"title":null,"minExtent":0,"maxExtent":0,"titlePadding":0}},
      "order":{"field":"o"}
     }}
   ],
   "resolve":{"axis":{"x":"independent","y":"independent"}}
  },
  {"width":290,"height":157,
   "layer":[
    {"data":{"name":"br"},"mark":{"type":"line","color":"#000000","strokeWidth":1.6,"clip":true},
     "encoding":{
      "x":{"field":"t","type":"quantitative","scale":{"domain":[0,5],"nice":false},"axis":{"values":[0,1,2,3,4,5],"title":"Time (s)"}},
      "y":{"field":"v","type":"quantitative","scale":{"domain":[-4,4],"nice":false},"axis":{"values":[-4,-2,0,2,4],"title":"Pectoralis Major","minExtent":27,"maxExtent":27}}
     }},
    {"data":{"name":"brs"},"mark":{"type":"line","color":"#000000","strokeWidth":1.2},
     "encoding":{
      "x":{"field":"t","type":"quantitative","axis":{"orient":"top","values":[0,1,2,3,4,5],"labels":false,"title":null,"minExtent":0,"maxExtent":0,"titlePadding":0}},
      "y":{"field":"v","type":"quantitative","axis":{"orient":"right","values":[-4,-2,0,2,4],"labels":false,"title":null,"minExtent":0,"maxExtent":0,"titlePadding":0}},
      "order":{"field":"o"}
     }}
   ],
   "resolve":{"axis":{"x":"independent","y":"independent"}}
  }
 ],"spacing":74,"bounds":"flush"}
],"spacing":29}
]
}
